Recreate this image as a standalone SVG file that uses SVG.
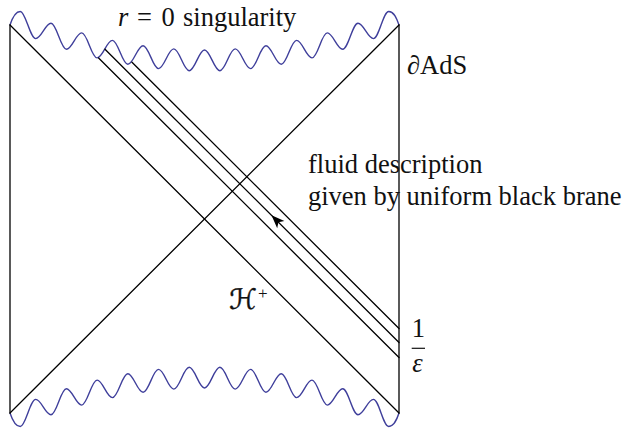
<svg xmlns="http://www.w3.org/2000/svg" width="622" height="429" viewBox="0 0 622 429">
<style>
.ln{fill:none;stroke:#000;stroke-width:1.3;stroke-linecap:round}
.wv{fill:none;stroke:#3f3f9b;stroke-width:1.4;stroke-linejoin:round}
.tx{font-family:"Liberation Serif","Times New Roman",serif;font-size:26.5px;fill:#111}
.it{font-style:italic}
</style>
<defs>
<path id="wave" class="wv" d="M10,25 C12,19 15,11.5 20.3,11.5 S30.1,38.6 35.7,38.6 S45.4,23.3 51,23.3 S60.8,49.3 66.4,49.3 S76.1,32.9 81.7,32.9 S91.5,57.9 97.1,57.9 S106.8,40.4 112.4,40.4 S122.2,64.3 127.8,64.3 S137.5,45.7 143.1,45.7 S152.9,68.6 158.5,68.6 S168.2,48.9 173.8,48.9 S183.6,70.7 189.2,70.7 S198.9,50 204.5,50 S214.3,70.7 219.9,70.7 S229.6,48.9 235.2,48.9 S245,68.6 250.6,68.6 S260.3,45.7 265.9,45.7 S275.7,64.3 281.3,64.3 S291,40.4 296.6,40.4 S306.4,57.9 312,57.9 S321.7,32.9 327.3,32.9 S337.1,49.3 342.7,49.3 S352.4,23.3 358,23.3 S367.8,38.6 373.4,38.6 S383.1,11.5 388.7,11.5 S397,19 399,25"/>
</defs>
<g id="singularities">
<use id="future-singularity" href="#wave"/>
<use id="past-singularity" href="#wave" transform="matrix(1 0 0 -1 0 438)"/>
</g>
<g id="connectors">
<path id="left-boundary" class="ln" d="M10,25 V413"/>
<path id="ads-boundary" class="ln" d="M399,25 V413"/>
<path id="horizon-future" class="ln" d="M10,25 L399,413"/>
<path id="horizon-past" class="ln" d="M399,25 L10,413"/>
<path id="ray1" class="ln" d="M98.6,58 L399,357.5"/>
<path id="ray2" class="ln" d="M105,49.3 L399,342.5"/>
<path id="ray3" class="ln" d="M132,62.2 L399,328.5"/>
<path id="arrowhead" d="M271.5,215.3 L284.4,221 L278.4,222.2 L277.2,228.2 Z" fill="#000"/>
</g>
<g id="labels">
<text class="tx it" x="118" y="26" font-family="Liberation Serif">r</text>
<text class="tx" x="137" y="26" font-family="Liberation Serif">=</text>
<text class="tx" x="161.5" y="26" font-family="Liberation Serif">0</text>
<text class="tx" x="183" y="26" font-family="Liberation Serif">singularity</text>
<text class="tx" x="407" y="74"><tspan class="it">∂</tspan>AdS</text>
<text class="tx" x="308" y="173.3">fluid description</text>
<text class="tx" x="308" y="205">given by uniform black brane</text>
<text x="229" y="309" style="font-family:'DejaVu Serif','DejaVu Sans',serif;font-size:28px;fill:#111;stroke:#111;stroke-width:0.4">ℋ</text>
<text class="tx" x="258" y="299" style="font-size:17px">+</text>
<text class="tx" x="418.3" y="337" text-anchor="middle">1</text>
<path id="frac-bar" d="M411.7,348.3 H425" stroke="#111" stroke-width="1.2"/>
<text class="tx it" x="417.5" y="371.7" text-anchor="middle">ε</text>
</g>
</svg>
